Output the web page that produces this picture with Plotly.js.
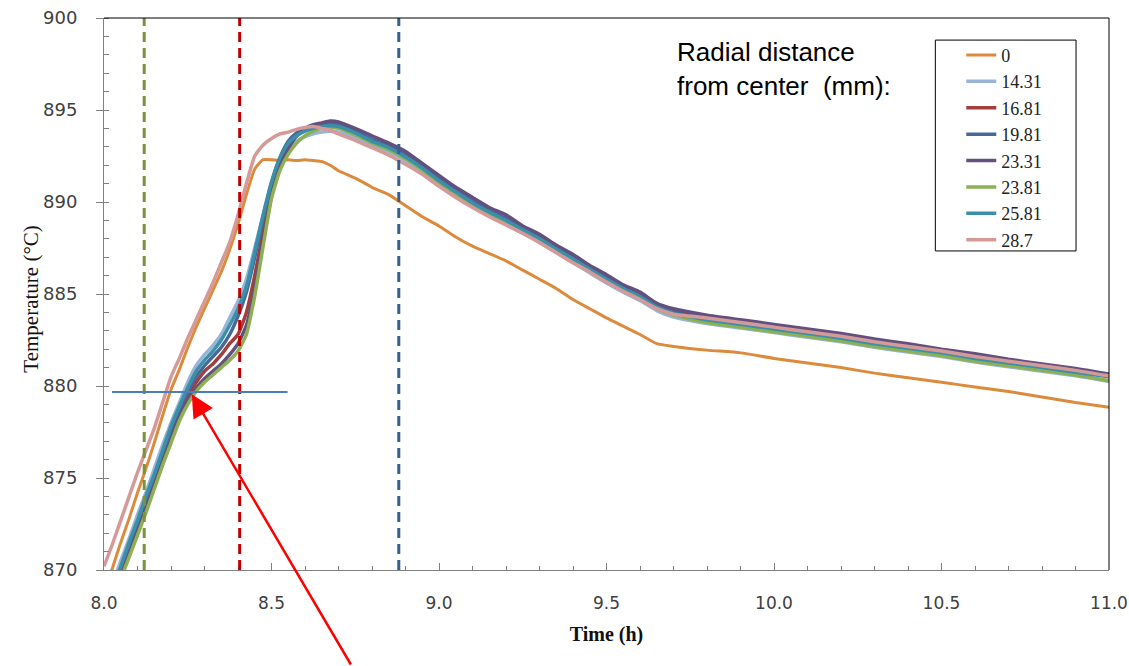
<!DOCTYPE html>
<html>
<head>
<meta charset="utf-8">
<script src="https://cdn.plot.ly/plotly-3.0.1.min.js"></script>
<style>
html,body{margin:0;padding:0;background:#fff;}
#chart{width:1129px;height:666px;}
</style>
</head>
<body>
<div id="chart"></div>
<script>
// ---- data ----
const timeH = [8.000,8.025,8.050,8.075,8.100,8.125,8.150,8.175,8.200,8.225,8.250,8.275,8.300,8.325,8.350,8.375,8.400,8.425,8.450,8.475,8.500,8.525,8.550,8.575,8.600,8.625,8.650,8.675,8.700,
  8.75,8.80,8.85,8.90,8.95,9.00,9.05,9.10,9.15,9.20,9.25,9.30,9.35,9.40,9.45,9.50,9.55,9.60,9.65,9.70,
  9.8,9.9,10.0,10.1,10.2,10.3,10.4,10.5,10.6,10.7,10.8,10.9,11.0];

const seriesNames = ['0','14.31','16.81','19.81','23.31','23.81','25.81','28.7'];

const r0 = [868.8,870.1,871.5,872.8,874.2,875.5,876.9,878.4,879.8,880.9,882.1,883.2,884.2,885.2,886.2,887.4,888.8,890.4,891.8,892.3,892.3,892.25,892.3,892.25,892.3,892.25,892.2,892.0,891.7,
  891.3,890.8,890.4,889.8,889.2,888.7,888.1,887.6,887.2,886.8,886.3,885.8,885.3,884.7,884.2,883.7,883.25,882.8,882.3,882.15,
  881.95,881.8,881.5,881.25,881.0,880.7,880.45,880.2,879.95,879.7,879.4,879.1,878.85];

const r1431 = [868.0,869.2,870.5,871.7,873.0,874.2,875.5,876.8,878.0,879.1,880.2,881.1,881.7,882.2,882.8,883.7,884.6,885.8,887.5,889.3,891.0,892.2,892.9,893.3,893.55,893.7,893.8,893.85,893.8,
  893.5,893.1,892.75,892.25,891.65,890.95,890.35,889.75,889.25,888.8,888.3,887.8,887.25,886.7,886.15,885.6,885.1,884.65,884.1,883.75,
  883.4,883.15,882.9,882.65,882.4,882.1,881.85,881.6,881.3,881.05,880.8,880.55,880.25];

const r1681 = [867.4,868.6,869.8,871.0,872.3,873.5,874.8,876.1,877.3,878.5,879.5,880.2,880.8,881.2,881.7,882.3,882.8,884.0,886.0,888.4,890.5,892.0,893.0,893.6,893.9,894.1,894.2,894.25,894.2,
  893.8,893.35,893.0,892.5,891.9,891.2,890.6,890.0,889.5,889.05,888.55,888.05,887.5,886.95,886.4,885.85,885.35,884.9,884.35,884.0,
  883.65,883.4,883.15,882.9,882.65,882.35,882.1,881.85,881.55,881.3,881.05,880.8,880.55];

const r1981 = [867.6,868.8,870.0,871.3,872.5,873.8,875.0,876.3,877.6,878.7,879.7,880.5,881.1,881.6,882.1,882.8,883.8,885.1,887.0,889.1,891.0,892.4,893.3,893.75,894.0,894.15,894.25,894.3,894.25,
  893.85,893.4,893.05,892.55,891.95,891.25,890.65,890.05,889.55,889.1,888.6,888.1,887.55,887.0,886.45,885.9,885.4,884.95,884.4,884.05,
  883.7,883.45,883.2,882.95,882.7,882.4,882.15,881.9,881.6,881.35,881.1,880.85,880.6];

const r2331 = [867.3,868.5,869.7,870.9,872.1,873.3,874.6,875.9,877.1,878.3,879.2,879.9,880.4,880.8,881.2,881.7,882.3,883.3,885.3,887.9,890.3,891.9,892.9,893.6,894.0,894.2,894.3,894.4,894.35,
  894.0,893.6,893.2,892.75,892.1,891.45,890.8,890.25,889.7,889.3,888.7,888.25,887.65,887.15,886.55,886.05,885.5,885.1,884.5,884.2,
  883.85,883.6,883.35,883.1,882.85,882.55,882.3,882.0,881.75,881.45,881.2,880.95,880.65];

const r2381 = [867.1,868.3,869.5,870.7,871.9,873.1,874.4,875.7,876.9,878.1,879.0,879.7,880.2,880.6,881.0,881.4,881.9,882.8,884.9,887.6,890.2,891.7,892.6,893.2,893.6,893.85,894.0,894.05,894.0,
  893.65,893.2,892.85,892.35,891.75,891.05,890.45,889.85,889.35,888.9,888.4,887.9,887.35,886.8,886.25,885.7,885.2,884.75,884.2,883.85,
  883.45,883.2,882.95,882.7,882.45,882.15,881.9,881.65,881.35,881.1,880.85,880.6,880.3];

const r2581 = [867.8,869.0,870.2,871.5,872.7,874.0,875.2,876.5,877.8,878.9,879.9,880.8,881.4,881.9,882.5,883.3,884.2,885.4,887.3,889.3,891.1,892.4,893.2,893.6,893.85,894.0,894.1,894.15,894.1,
  893.75,893.3,892.95,892.45,891.85,891.15,890.55,889.95,889.45,889.0,888.5,888.0,887.45,886.9,886.35,885.8,885.3,884.85,884.3,883.95,
  883.6,883.35,883.1,882.85,882.6,882.3,882.05,881.8,881.5,881.25,881.0,880.75,880.5];

const r287 = [870.2,871.4,872.7,874.0,875.3,876.5,877.7,879.1,880.5,881.5,882.6,883.6,884.6,885.6,886.7,887.8,889.3,891.0,892.5,893.1,893.45,893.7,893.8,893.95,894.05,894.1,894.0,893.9,893.7,
  893.35,892.95,892.55,892.05,891.5,890.85,890.25,889.7,889.2,888.75,888.3,887.8,887.25,886.7,886.2,885.65,885.15,884.7,884.2,883.9,
  883.7,883.45,883.2,882.95,882.7,882.4,882.15,881.9,881.6,881.35,881.1,880.85,880.55];

const markerTimes = [8.12, 8.405, 8.88];     // vertical dashed lines (h)
const refLevel = 879.67;                     // horizontal reference line (°C)
const refStart = 8.024, refEnd = 8.548;
const arrowTip = {t: 8.262, T: 879.55};

const xTicks = [8.0, 8.5, 9.0, 9.5, 10.0, 10.5, 11.0];
const xTickText = ['8.0','8.5','9.0','9.5','10.0','10.5','11.0'];
const yTicks = [870, 875, 880, 885, 890, 895, 900];

// ---- styles ----
const colors = ['#dc8a3c','#98b4d6','#a23e3b','#46699a','#63507f','#8db052','#3b90a9','#d59a98'];
const markerColors = ['#77933c','#c00000','#376092'];
const allSeries = [r0, r1431, r1681, r1981, r2331, r2381, r2581, r287];

const traces = allSeries.map((vals, i) => ({
  type: 'scatter', mode: 'lines',
  x: timeH, y: vals, name: seriesNames[i],
  line: {color: colors[i], width: i === 0 ? 3 : 3.5, shape: 'spline', smoothing: 0.5}
}));

const shapes = markerTimes.map((t, i) => ({
  type: 'line', xref: 'x', yref: 'paper', x0: t, x1: t, y0: 0, y1: 1,
  line: {color: markerColors[i], width: 3, dash: '10px,6px'}
}));
shapes.push({type: 'line', xref: 'x', yref: 'y', x0: refStart, x1: refEnd, y0: refLevel, y1: refLevel,
  line: {color: '#4a7ebb', width: 2}});
// frame top/right
shapes.push({type: 'line', xref: 'paper', yref: 'paper', x0: 0, x1: 1, y0: 1, y1: 1, line: {color: '#000', width: 1}});
shapes.push({type: 'line', xref: 'paper', yref: 'paper', x0: 1, x1: 1, y0: 0, y1: 1, line: {color: '#000', width: 1}});
// legend frame
shapes.push({type: 'rect', xref: 'paper', yref: 'paper', x0: 0.8272, x1: 0.9672, y0: 0.578, y1: 0.960,
  fillcolor: '#fff', line: {color: '#000', width: 1}, layer: 'above'});

const layout = {
  width: 1129, height: 666,
  margin: {l: 104, r: 20, t: 18, b: 96},
  paper_bgcolor: '#fff', plot_bgcolor: '#fff',
  showlegend: true,
  legend: {
    x: 0.853, y: 0.966, xanchor: 'left', yanchor: 'top',
    bgcolor: 'rgba(0,0,0,0)', borderwidth: 0,
    font: {family: 'Liberation Serif, serif', size: 18, color: '#222'},
    tracegroupgap: 0
  },
  xaxis: {
    range: [8, 11], tickvals: xTicks, ticktext: xTickText,
    showgrid: false, zeroline: false,
    showline: true, linecolor: '#808080', linewidth: 1,
    ticks: 'inside', ticklen: 7, tickcolor: '#808080',
    minor: {dtick: 0.1, ticks: 'inside', ticklen: 4, tickcolor: '#808080', showgrid: false},
    tickfont: {family: 'DejaVu Sans, sans-serif', size: 17, color: '#404040'},
    ticklabelstandoff: 18,
    title: {text: '<b>Time (h)</b>', font: {family: 'Liberation Serif, serif', size: 20, color: '#111'}, standoff: 14}
  },
  yaxis: {
    range: [870, 900], tickvals: yTicks,
    showgrid: false, zeroline: false,
    showline: true, linecolor: '#808080', linewidth: 1,
    ticks: 'outside', ticklen: 7, tickcolor: '#808080',
    minor: {dtick: 1, ticks: 'inside', ticklen: 5, tickcolor: '#808080', showgrid: false},
    tickfont: {family: 'DejaVu Sans, sans-serif', size: 18, color: '#404040'},
    ticklabelstandoff: 15
  },
  shapes: shapes,
  annotations: [
    {xref: 'paper', yref: 'paper', x: -0.0735, y: 0.49, xanchor: 'center', yanchor: 'middle',
     textangle: -90, showarrow: false, text: 'Temperature (°C)',
     font: {family: 'Liberation Serif, serif', size: 21, color: '#111'}},
    {xref: 'paper', yref: 'paper', x: 0.568, y: 0.969, xanchor: 'left', yanchor: 'top', align: 'left',
     showarrow: false, text: 'Radial distance<br>from center  (mm):',
     font: {family: 'Liberation Sans, Arial, sans-serif', size: 26, color: '#000'}},
    {xref: 'x', yref: 'y', x: arrowTip.t, y: arrowTip.T, text: '', showarrow: true,
     axref: 'pixel', ayref: 'pixel', ax: 160, ay: 285,
     arrowhead: 2, arrowsize: 1.8, arrowwidth: 2.5, arrowcolor: '#ff0000'}
  ]
};

Plotly.newPlot('chart', traces, layout, {displayModeBar: false, staticPlot: true});
</script>
</body>
</html>
